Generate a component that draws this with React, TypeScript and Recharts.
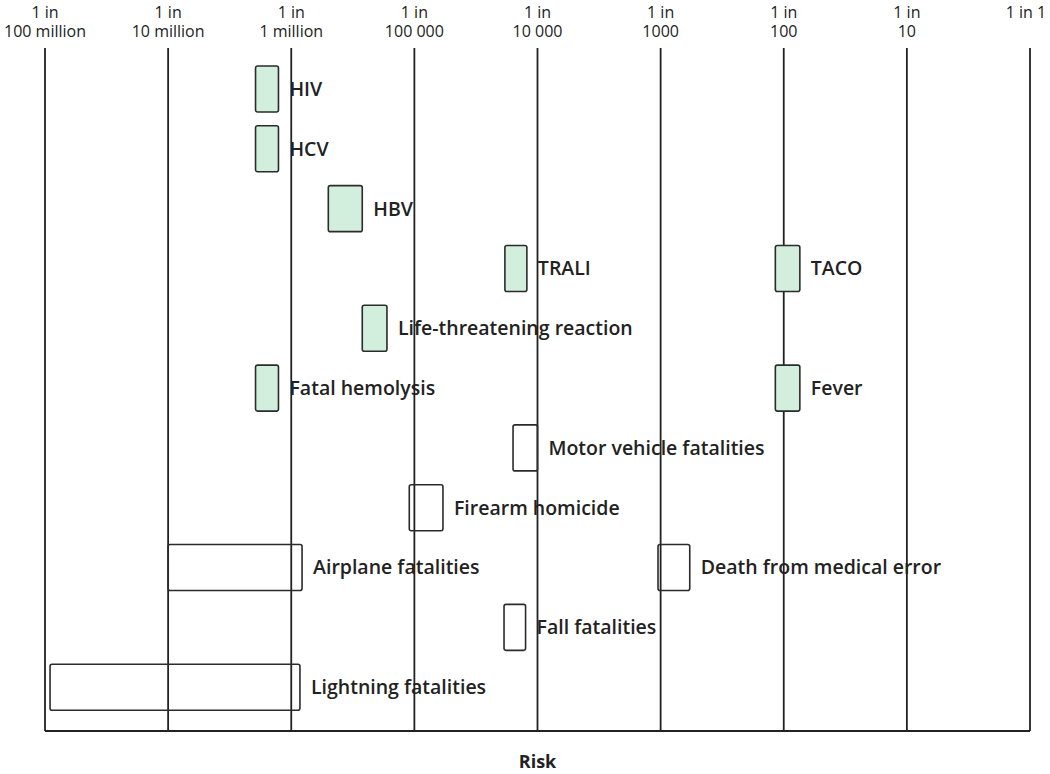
import { BarChart, Bar, XAxis, YAxis, CartesianGrid, LabelList, Cell } from "recharts"

const FONT = "'Open Sans', 'Noto Sans', sans-serif"
const GREEN = "#d2eedd"
const INK = "#222"

// first item in each row, risk read as "1 in N" (lower risk end, higher risk end)
const namesA = [
  "HIV",
  "HCV",
  "HBV",
  "TRALI",
  "Life-threatening reaction",
  "Fatal hemolysis",
  "Motor vehicle fatalities",
  "Firearm homicide",
  "Airplane fatalities",
  "Fall fatalities",
  "Lightning fatalities",
]
const lowA = [1950000, 1950000, 500000, 18400, 265000, 1950000, 15800, 110000, 10000000, 18700, 91000000]
const highA = [1270000, 1270000, 265000, 12200, 167000, 1270000, 10000, 58600, 817000, 12500, 850000]
const transfusionA = [true, true, true, true, true, true, false, false, false, false, false]

// second item sharing a row
const namesB = ["", "", "", "TACO", "", "Fever", "", "", "Death from medical error", "", ""]
const lowB = [null, null, null, 117, null, 117, null, null, 1050, null, null]
const highB = [null, null, null, 74, null, 74, null, null, 580, null, null]
const transfusionB = [false, false, false, true, false, true, false, false, false, false, false]

// axis in powers of ten
const tickExp = [-8, -7, -6, -5, -4, -3, -2, -1, 0]
const tickText = ["100 million", "10 million", "1 million", "100 000", "10 000", "1000", "100", "10", "1"]

const data = namesA.map((name, i) => ({
  row: name,
  nameA: name,
  a: [-Math.log10(lowA[i]), -Math.log10(highA[i])],
  nameB: namesB[i],
  b: lowB[i] != null ? [-Math.log10(lowB[i] as number), -Math.log10(highB[i] as number)] : null,
}))

function RiskTick(props: any) {
  const { x, y, payload } = props
  const label = tickText[tickExp.indexOf(payload.value)]
  const style = { fontFamily: FONT, fontSize: 16, fill: INK }
  if (label === "1") {
    return (
      <text x={x - 4} y={y - 22} textAnchor="middle" style={style}>
        1 in 1
      </text>
    )
  }
  return (
    <text textAnchor="middle" style={style}>
      <tspan x={x} y={y - 22}>1 in</tspan>
      <tspan x={x} y={y - 3}>{label}</tspan>
    </text>
  )
}

const labelProps = {
  position: "right" as const,
  offset: 11,
  fill: INK,
  fontSize: 19.5,
  fontWeight: 600,
  fontFamily: FONT,
}

export default function App() {
  return (
    <div style={{ position: "absolute", left: 0, top: 0, background: "#fff" }}>
      <BarChart
        width={1050}
        height={774}
        data={data}
        layout="vertical"
        margin={{ top: 0, right: 20, bottom: 0, left: 45 }}
        barSize={46}
        barGap={-46}
      >
        <CartesianGrid xAxisId="top" horizontal={false} stroke={INK} strokeWidth={1.8} />
        <XAxis
          xAxisId="top"
          orientation="top"
          type="number"
          domain={[-8, 0]}
          ticks={tickExp}
          interval={0}
          height={48}
          axisLine={false}
          tickLine={false}
          tick={<RiskTick />}
        />
        <XAxis
          xAxisId="bottom"
          orientation="bottom"
          type="number"
          domain={[-8, 0]}
          ticks={tickExp}
          height={43}
          tick={false}
          tickLine={false}
          axisLine={{ stroke: INK, strokeWidth: 1.8 }}
          label={{
            value: "Risk",
            position: "insideBottom",
            offset: 6,
            fill: INK,
            fontSize: 18,
            fontWeight: 700,
            fontFamily: FONT,
          }}
        />
        <YAxis type="category" dataKey="row" hide padding={{ top: 11, bottom: 14 }} />
        <Bar dataKey="a" xAxisId="top" stroke="#2b2b2b" strokeWidth={1.6} radius={2} isAnimationActive={false}>
          {data.map((_, i) => (
            <Cell key={i} fill={transfusionA[i] ? GREEN : "#fff"} fillOpacity={transfusionA[i] ? 1 : 0} />
          ))}
          <LabelList dataKey="nameA" {...labelProps} />
        </Bar>
        <Bar dataKey="b" xAxisId="top" stroke="#2b2b2b" strokeWidth={1.6} radius={2} isAnimationActive={false}>
          {data.map((_, i) => (
            <Cell key={i} fill={transfusionB[i] ? GREEN : "#fff"} fillOpacity={transfusionB[i] ? 1 : 0} />
          ))}
          <LabelList dataKey="nameB" {...labelProps} />
        </Bar>
      </BarChart>
    </div>
  )
}
